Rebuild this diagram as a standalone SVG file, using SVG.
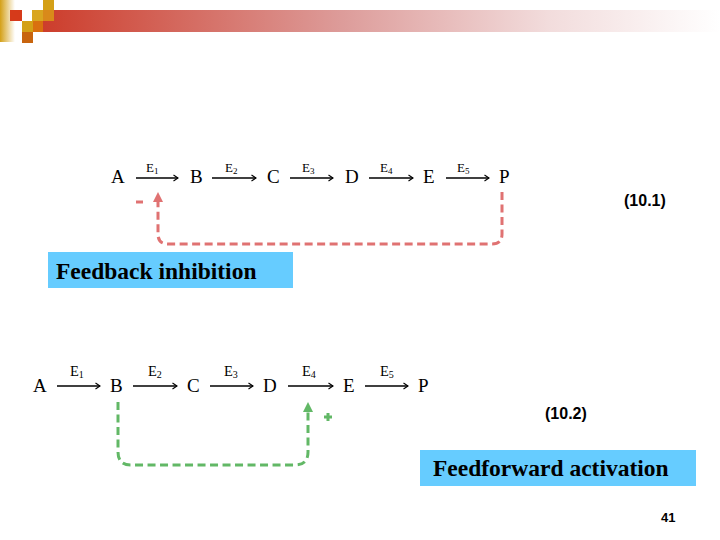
<svg xmlns="http://www.w3.org/2000/svg" width="720" height="540" viewBox="0 0 720 540">
  <defs>
    <linearGradient id="barGrad" x1="0" y1="0" x2="1" y2="0">
      <stop offset="0" stop-color="#cc3a28"/>
      <stop offset="0.45" stop-color="#dd9c9a"/>
      <stop offset="0.75" stop-color="#f2dcdc"/>
      <stop offset="1" stop-color="#ffffff"/>
    </linearGradient>
    <linearGradient id="goldGrad" x1="0" y1="0" x2="1" y2="0">
      <stop offset="0" stop-color="#d4a017"/>
      <stop offset="1" stop-color="#ffffff"/>
    </linearGradient>
    <marker id="chev" markerWidth="8" markerHeight="8" refX="6" refY="4" orient="auto" markerUnits="userSpaceOnUse">
      <path d="M1.5,1 L6,4 L1.5,7" fill="none" stroke="#000" stroke-width="1.1"/>
    </marker>
  </defs>
  <style>
    .node { font-family: "Liberation Serif", "Times New Roman", serif; font-size: 19px; fill: #000; }
    .enz { font-family: "Liberation Serif", "Times New Roman", serif; font-size: 13px; fill: #000; }
    .enz2 { font-family: "Liberation Serif", "Times New Roman", serif; font-size: 14.5px; fill: #000; }
    .sub { font-size: 9px; }
    .sub2 { font-size: 10px; }
    .rxn { stroke: #000; stroke-width: 1.3; fill: none; marker-end: url(#chev); }
    .fb { stroke: #e07272; stroke-width: 3; fill: none; stroke-dasharray: 8 4.5; }
    .ff { stroke: #62b866; stroke-width: 3; fill: none; stroke-dasharray: 8 4.5; }
    .eq { font-family: "Liberation Sans", Arial, sans-serif; font-weight: bold; font-size: 16px; fill: #000; }
    .label { font-family: "Liberation Serif", "Times New Roman", serif; font-weight: bold; font-size: 23.5px; fill: #000; }
    .box { fill: #66ccff; }
  </style>

  <g id="header">
    <rect x="33" y="10" width="687" height="22" fill="url(#barGrad)"/>
    <rect x="0" y="0" width="15" height="42" fill="url(#goldGrad)"/>
    <rect x="10" y="10" width="12" height="11" fill="#d63a1a"/>
    <rect x="32" y="10" width="11" height="11" fill="#d9a520"/>
    <rect x="43" y="0" width="11" height="10" fill="#d4a017"/>
    <rect x="43" y="10" width="11" height="11" fill="#d98a1a"/>
    <rect x="22" y="21" width="11" height="11" fill="#d4a017"/>
    <rect x="33" y="21" width="10" height="11" fill="#d9700f"/>
    <rect x="22" y="32" width="11" height="11" fill="#c8640e"/>
  </g>

  <!-- Pathway 10.1 -->
  <g id="p1-A"><text class="node" x="111" y="183">A</text></g>
  <g id="p1-B"><text class="node" x="190" y="183">B</text></g>
  <g id="p1-C"><text class="node" x="267" y="183">C</text></g>
  <g id="p1-D"><text class="node" x="345" y="183">D</text></g>
  <g id="p1-E"><text class="node" x="423" y="183">E</text></g>
  <g id="p1-P"><text class="node" x="499" y="183">P</text></g>

  <!-- Pathway 10.2 -->
  <g id="p2-A"><text class="node" x="33" y="392">A</text></g>
  <g id="p2-B"><text class="node" x="110" y="392">B</text></g>
  <g id="p2-C"><text class="node" x="187" y="392">C</text></g>
  <g id="p2-D"><text class="node" x="263" y="392">D</text></g>
  <g id="p2-E"><text class="node" x="343" y="392">E</text></g>
  <g id="p2-P"><text class="node" x="418" y="392">P</text></g>

  <g id="connectors">
    <line class="rxn" x1="136" y1="178" x2="178" y2="178"/>
    <line class="rxn" x1="212" y1="178" x2="256" y2="178"/>
    <line class="rxn" x1="290" y1="178" x2="333" y2="178"/>
    <line class="rxn" x1="369" y1="178" x2="413" y2="178"/>
    <line class="rxn" x1="446" y1="178" x2="489" y2="178"/>

    <line class="rxn" x1="57" y1="386" x2="100" y2="386"/>
    <line class="rxn" x1="133" y1="386" x2="177" y2="386"/>
    <line class="rxn" x1="210" y1="386" x2="253" y2="386"/>
    <line class="rxn" x1="288" y1="386" x2="333" y2="386"/>
    <line class="rxn" x1="365" y1="386" x2="408" y2="386"/>

    <path class="fb" d="M502,192 V234 Q502,244 492,244 H168 Q158,244 158,234 V201"/>
    <polygon points="158,192 153,202 163,202" fill="#e07272"/>
    <line x1="136" y1="202" x2="143" y2="202" stroke="#e07272" stroke-width="3"/>

    <path class="ff" d="M118,402 V452 Q118,465 131,465 H295 Q308,465 308,452 V411"/>
    <polygon points="308,402 303,412 313,412" fill="#62b866"/>
    <path d="M324,417 H332 M328,413 V421" stroke="#62b866" stroke-width="3" fill="none"/>
  </g>

  <g id="enzyme-labels">
    <text class="enz" x="146" y="172">E<tspan class="sub" dy="2">1</tspan></text>
    <text class="enz" x="225" y="172">E<tspan class="sub" dy="2">2</tspan></text>
    <text class="enz" x="302" y="172">E<tspan class="sub" dy="2">3</tspan></text>
    <text class="enz" x="380" y="172">E<tspan class="sub" dy="2">4</tspan></text>
    <text class="enz" x="457" y="172">E<tspan class="sub" dy="2">5</tspan></text>

    <text class="enz2" x="70" y="376">E<tspan class="sub2" dy="2">1</tspan></text>
    <text class="enz2" x="148" y="376">E<tspan class="sub2" dy="2">2</tspan></text>
    <text class="enz2" x="224" y="376">E<tspan class="sub2" dy="2">3</tspan></text>
    <text class="enz2" x="302" y="376">E<tspan class="sub2" dy="2">4</tspan></text>
    <text class="enz2" x="380" y="376">E<tspan class="sub2" dy="2">5</tspan></text>
  </g>

  <g id="eq1"><text class="eq" x="624" y="206">(10.1)</text></g>
  <g id="eq2"><text class="eq" x="545" y="419">(10.2)</text></g>

  <g id="feedback-label">
    <rect class="box" x="48" y="252" width="245" height="36"/>
    <text class="label" x="56" y="279">Feedback inhibition</text>
  </g>
  <g id="feedforward-label">
    <rect class="box" x="420" y="450" width="276" height="36"/>
    <text class="label" x="433" y="476">Feedforward activation</text>
  </g>

  <g id="page-number">
    <text x="661" y="522" font-family="Liberation Sans, Arial, sans-serif" font-weight="bold" font-size="13" fill="#000">41</text>
  </g>
</svg>
